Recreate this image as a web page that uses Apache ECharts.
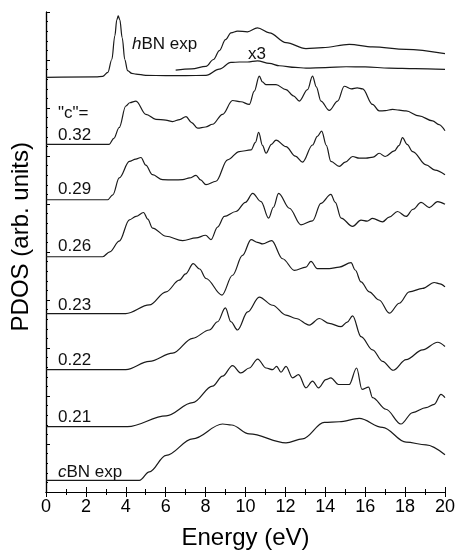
<!DOCTYPE html>
<html>
<head>
<meta charset="utf-8">
<script src="https://cdn.jsdelivr.net/npm/echarts@6/dist/echarts.min.js"></script>
<style>
  html, body { margin: 0; padding: 0; background: #fff; }
  #chart { width: 458px; height: 555px; }
</style>
</head>
<body>
<div id="chart"></div>
<script>
// energies (eV) and heights above each curve's own baseline (arb. units)
var hbnE = [0, 2.5, 2.84, 3.1, 3.3, 3.45, 3.55, 3.62, 3.7, 3.82, 3.95, 4.09, 4.3, 4.51, 5, 6, 7, 8.02, 8.69, 9.27, 9.7, 10.1, 10.6, 11.2, 11.7, 12.5, 13.03, 14, 15.04, 16, 17.2, 18.5, 20];
var hbnH = [0, 0.5, 1, 5, 18, 42, 58, 62, 58, 40, 18, 6.7, 4, 3.3, 2, 1.7, 1.7, 2, 8.3, 15, 15.5, 15.5, 16.7, 14, 11.7, 10, 9.3, 9.8, 10.7, 10.5, 9.3, 8.8, 8];
var hbnX3E = [6.5, 7.3, 8.02, 8.4, 8.69, 9.0, 9.27, 9.6, 10.1, 10.6, 11.2, 12.03, 13.03, 13.87, 15.2, 16.37, 18.05, 20];
var hbnX3H = [7.3, 8.5, 11, 18, 27, 38, 45, 46.7, 46, 50, 45, 35, 29, 30, 33.3, 30.7, 28.3, 24];

var c032E = [0, 3.17, 3.4, 3.67, 4.0, 4.2, 4.51, 5.01, 5.51, 6.0, 6.35, 6.7, 7.02, 7.3, 7.6, 8.0, 8.35, 8.85, 9.35, 9.77, 10.19, 10.44, 10.69, 10.85, 11.03, 11.53, 12.03, 12.4, 12.7, 13.11, 13.36, 13.55, 13.78, 14.2, 14.62, 14.95, 15.3, 15.6, 15.87, 16.37, 16.7, 17.0, 17.37, 17.7, 18.05, 18.7, 19.38, 19.7, 20];
var c032H = [0, 0, 6, 17, 38.7, 42, 43.7, 30.3, 25.3, 24.5, 23, 25, 28, 22, 16.3, 17.5, 20.3, 30.3, 44.3, 43, 40.3, 53.7, 69, 63, 60.3, 60.3, 55.3, 49, 43.7, 55.3, 69, 58, 43.7, 34.3, 43.7, 58.7, 56, 57, 56, 40.3, 33.7, 34, 35.3, 34.5, 33.7, 28.7, 23.7, 20, 13.7];

var c029E = [0, 3.09, 3.35, 3.67, 4.18, 4.5, 4.76, 5.0, 5.34, 5.84, 6.4, 6.85, 7.2, 7.52, 7.75, 8.02, 8.52, 9.1, 9.69, 10.28, 10.5, 10.66, 10.85, 11.03, 11.3, 11.53, 12.03, 12.5, 12.86, 13.36, 13.6, 13.82, 14.05, 14.28, 14.7, 15.0, 15.37, 15.7, 16.04, 16.4, 16.7, 17.0, 17.46, 17.7, 17.87, 18.1, 18.38, 19.05, 19.5, 20];
var c029H = [0, 0, 5, 22, 38.7, 41, 42.7, 35, 25.3, 20.3, 20, 20.3, 22, 24.7, 20, 15.3, 18.7, 40.3, 48.7, 50.3, 58, 68, 55, 47, 56, 60.3, 53.7, 44, 38, 55.3, 64, 69.3, 55, 38.7, 33.7, 38, 43.7, 42, 42, 43, 47, 43.7, 49.3, 55, 62.7, 56, 48.7, 35.3, 30, 25.3];

var c026E = [0, 2.84, 3.2, 3.67, 4.18, 4.51, 4.89, 5.1, 5.34, 6.02, 6.85, 7.52, 8.0, 8.27, 8.6, 8.94, 9.52, 10.0, 10.36, 10.78, 11.16, 11.4, 11.66, 12.2, 12.78, 13.36, 13.78, 14.28, 14.5, 14.79, 15.37, 15.79, 16.1, 16.37, 16.87, 17.2, 17.62, 18.05, 18.4, 18.8, 19.21, 19.63, 20];
var c026H = [0, 0, 5, 15.7, 37.3, 40.7, 44.7, 38, 29, 20.7, 16.3, 19, 21.7, 17.3, 30, 40.7, 45.7, 55, 64, 55.7, 39, 50, 64, 49, 32.3, 36.3, 54, 63, 55, 39, 30.7, 37, 36, 38.7, 35.3, 40, 45.7, 40.7, 48, 55, 49.7, 55.7, 53];

var c023E = [0, 4.0, 5.18, 6.02, 6.68, 7.0, 7.38, 7.7, 8.02, 8.82, 9.35, 9.85, 10.28, 10.6, 10.86, 11.31, 11.86, 12.45, 13.03, 13.28, 13.6, 14.2, 14.7, 15.29, 15.5, 15.79, 16.2, 16.7, 17.21, 17.71, 18.21, 18.88, 19.46, 19.75, 20];
var c023H = [0, 0, 8.7, 22, 33.7, 40, 50.4, 45, 35.4, 18.7, 38.7, 58.7, 74.7, 72, 70.4, 73.7, 55.4, 43.7, 47, 52.7, 45.4, 45.4, 47, 51.4, 44, 32, 22, 13.7, 0.4, 10.4, 22, 25.4, 31.4, 30, 27];

var c022E = [0, 4.0, 5.18, 6.35, 7.35, 8.19, 8.6, 8.99, 9.27, 9.6, 10.11, 10.69, 11.36, 12.03, 12.53, 13.2, 13.7, 14.2, 14.79, 15.1, 15.37, 15.79, 16.37, 16.87, 17.41, 18.05, 18.88, 19.63, 20];
var c022H = [0, 0, 8.3, 16.6, 31.6, 40, 48.3, 62.3, 48.3, 40, 58.3, 73.3, 65, 55, 51.6, 45, 51.6, 46.6, 43.3, 48, 54.3, 33.3, 20, 8.3, -0.7, 10, 20, 27.6, 23.3];

var c021E = [0, 4.09, 6.02, 7.35, 8.35, 8.85, 9.35, 9.77, 10.19, 10.61, 11.03, 11.36, 11.56, 11.78, 12.03, 12.36, 12.66, 13.03, 13.36, 13.66, 14.03, 14.28, 14.66, 15.2, 15.57, 15.84, 16.17, 16.37, 17.04, 17.79, 18.38, 19.05, 19.46, 19.8, 20];
var c021H = [0, 0, 11, 24.3, 41, 51, 61.7, 54.3, 59.3, 68.3, 59.3, 57.6, 61, 55, 61, 49.3, 52.6, 39.3, 46, 39.3, 47.6, 49.3, 42.6, 42.6, 59.3, 37.6, 40, 29.3, 17.6, 2.7, 14.3, 19.3, 22.6, 32.7, 29.3];

var cbnE = [0, 4.68, 5.18, 6.02, 7.35, 8.85, 9.3, 10.19, 12.03, 12.86, 13.95, 14.7, 15.7, 16.87, 18.05, 19.05, 20];
var cbnH = [0, 0, 8.6, 25.3, 42, 57, 56, 47, 38, 42, 58.6, 59.3, 62.6, 53.6, 38.6, 36, 26];

// vertical offsets of each curve in the stack
var offsets = [419, 419, 351.3, 295.3, 237.7, 180.3, 123.7, 66, 11.7];
var curveE = [hbnE, hbnX3E, c032E, c029E, c026E, c023E, c022E, c021E, cbnE];
var curveH = [hbnH, hbnX3H, c032H, c029H, c026H, c023H, c022H, c021H, cbnH];
var xTicks = [0, 2, 4, 6, 8, 10, 12, 14, 16, 18, 20];

var chart = echarts.init(document.getElementById('chart'));
var font = 'Liberation Sans, Arial, sans-serif';

var series = curveE.map(function (es, i) {
  return {
    type: 'line',
    smooth: 0.35,
    smoothMonotone: 'x',
    showSymbol: false,
    lineStyle: { color: '#1a1a1a', width: 1.2 },
    data: es.map(function (e, j) { return [e, curveH[i][j] + offsets[i]]; })
  };
});

function lbl(text, x, y, rich) {
  return {
    type: 'text', left: x, top: y,
    style: { text: text, font: '17px ' + font, fill: '#111', rich: rich }
  };
}
var italic = { i: { fontStyle: 'italic', fontSize: 17, fontFamily: font } };

chart.setOption({
  animation: false,
  grid: { left: 46, right: 12, top: 12, bottom: 58 },
  xAxis: [{
    type: 'value', min: 0, max: 20, interval: 2,
    axisLine: { lineStyle: { color: '#000', width: 1.2 } },
    axisTick: { inside: true, length: 5, lineStyle: { color: '#000' } },
    minorTick: { show: true, splitNumber: 2, length: 3, lineStyle: { color: '#000' } },
    splitLine: { show: false },
    axisLabel: { color: '#000', fontSize: 18, fontFamily: font, margin: 6,
      formatter: function (v) { return xTicks.indexOf(v) >= 0 ? v : ''; } },
    name: 'Energy (eV)', nameLocation: 'middle', nameGap: 34,
    nameTextStyle: { color: '#000', fontSize: 24, fontFamily: font }
  }, {
    type: 'value', position: 'top', min: 0, max: 20, interval: 2,
    axisLine: { lineStyle: { color: '#000', width: 1.2 } },
    axisTick: { inside: true, length: 5, lineStyle: { color: '#000' } },
    minorTick: { show: true, splitNumber: 2, length: 3, lineStyle: { color: '#000' } },
    splitLine: { show: false }, axisLabel: { show: false }
  }],
  yAxis: [{
    type: 'value', min: 0, max: 485, interval: 48.5,
    axisLine: { show: true, lineStyle: { color: '#000', width: 1.2 } },
    axisTick: { show: true, inside: true, length: 4, lineStyle: { color: '#000' } },
    minorTick: { show: true, splitNumber: 5, length: 2, lineStyle: { color: '#000' } },
    splitLine: { show: false }, axisLabel: { show: false }
  }, {
    type: 'value', position: 'right', min: 0, max: 485,
    axisLine: { show: true, lineStyle: { color: '#000', width: 1.2 } },
    axisTick: { show: false }, splitLine: { show: false }, axisLabel: { show: false }
  }],
  graphic: [
    { type: 'text', left: 9, top: 142, rotation: Math.PI / 2,
      style: { text: 'PDOS (arb. units)', font: '24px ' + font, fill: '#000' } },
    lbl('{i|h}BN exp', 132, 36, italic),
    lbl('x3', 248, 46),
    lbl('"c"=', 58, 105),
    lbl('0.32', 58, 127),
    lbl('0.29', 58, 181),
    lbl('0.26', 58, 238),
    lbl('0.23', 58, 297),
    lbl('0.22', 58, 352),
    lbl('0.21', 58, 409),
    lbl('{i|c}BN exp', 58, 464, italic)
  ],
  series: series
});
</script>
</body>
</html>
